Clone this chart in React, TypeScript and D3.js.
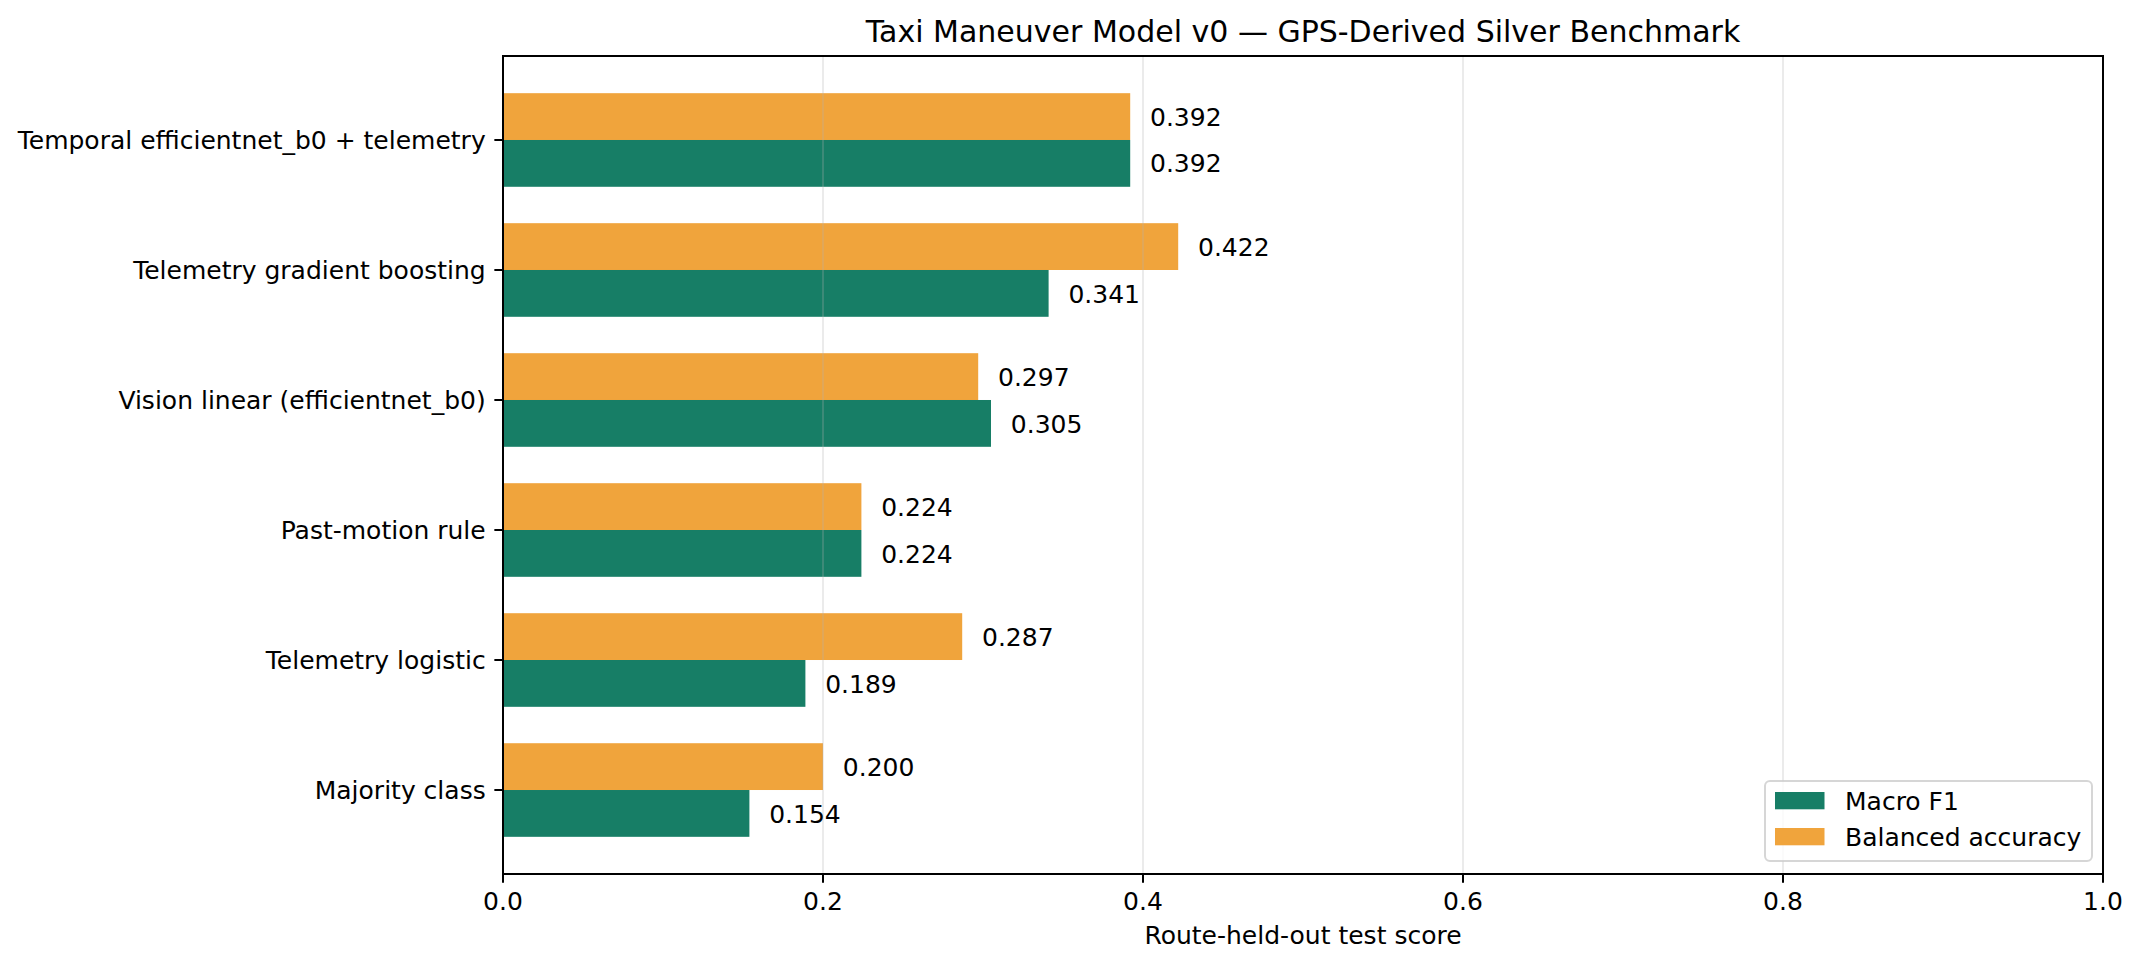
import * as d3 from "d3";

const categories = [
  "Temporal efficientnet_b0 + telemetry",
  "Telemetry gradient boosting",
  "Vision linear (efficientnet_b0)",
  "Past-motion rule",
  "Telemetry logistic",
  "Majority class",
];
const macroF1 = [0.392, 0.341, 0.305, 0.224, 0.189, 0.154];
const balancedAccuracy = [0.392, 0.422, 0.297, 0.224, 0.287, 0.2];
const xTicks = [0, 0.2, 0.4, 0.6, 0.8, 1.0];
const seriesNames = ["Macro F1", "Balanced accuracy"];

const width = 2142;
const height = 967;
const left = 503;
const right = 2103;
const top = 56;
const bottom = 874;

const green = "#177e66";
const orange = "#f0a43c";
const font = "'DejaVu Sans', sans-serif";
const fs = 25;
const barH = 0.36;

export default function App() {
  const x = d3.scaleLinear().domain([0, 1]).range([left, right]);

  // matplotlib-style 5% margin around the bar extent, inverted axis
  const lo = -barH;
  const hi = categories.length - 1 + barH;
  const pad = (hi - lo) * 0.05;
  const y = d3.scaleLinear().domain([lo - pad, hi + pad]).range([top, bottom]);

  const fmt = d3.format(".3f");
  const colors = [green, orange];

  return (
    <svg
      width={width}
      height={height}
      viewBox={`0 0 ${width} ${height}`}
      style={{ position: "absolute", left: 0, top: 0, background: "#fff" }}
      fontFamily={font}
    >
      <rect x={0} y={0} width={width} height={height} fill="#fff" />

      {/* bars */}
      {categories.map((c, i) => (
        <g key={c}>
          <rect
            x={x(0)}
            y={y(i - barH)}
            width={x(balancedAccuracy[i]) - x(0)}
            height={y(i) - y(i - barH)}
            fill={orange}
          />
          <rect
            x={x(0)}
            y={y(i)}
            width={x(macroF1[i]) - x(0)}
            height={y(i + barH) - y(i)}
            fill={green}
          />
        </g>
      ))}

      {/* grid on top of bars */}
      {xTicks.map((t) => (
        <line
          key={t}
          x1={x(t)}
          x2={x(t)}
          y1={top}
          y2={bottom}
          stroke="#b0b0b0"
          strokeOpacity={0.25}
          strokeWidth={2}
        />
      ))}

      {/* value labels */}
      {categories.map((c, i) => (
        <g key={c} fontSize={fs} fill="#000">
          <text x={x(balancedAccuracy[i]) + 19.8} y={y(i - barH / 2) + fs * 0.3645}>
            {fmt(balancedAccuracy[i])}
          </text>
          <text x={x(macroF1[i]) + 19.8} y={y(i + barH / 2) + fs * 0.3645}>
            {fmt(macroF1[i])}
          </text>
        </g>
      ))}

      {/* spines */}
      <rect
        x={left}
        y={top}
        width={right - left}
        height={bottom - top}
        fill="none"
        stroke="#000"
        strokeWidth={2}
      />

      {/* x axis */}
      {xTicks.map((t) => (
        <g key={t}>
          <line x1={x(t)} x2={x(t)} y1={bottom} y2={bottom + 8.65} stroke="#000" strokeWidth={2} />
          <text x={x(t)} y={910} fontSize={fs} textAnchor="middle">
            {t.toFixed(1)}
          </text>
        </g>
      ))}
      <text x={(left + right) / 2} y={944} fontSize={fs} textAnchor="middle">
        Route-held-out test score
      </text>

      {/* y axis */}
      {categories.map((c, i) => (
        <g key={c}>
          <line x1={left - 8.65} x2={left} y1={y(i)} y2={y(i)} stroke="#000" strokeWidth={2} />
          <text x={left - 17.3} y={y(i) + fs * 0.3645} fontSize={fs} textAnchor="end">
            {c}
          </text>
        </g>
      ))}

      {/* title */}
      <text x={(left + right) / 2} y={41.7} fontSize={30} textAnchor="middle">
        Taxi Maneuver Model v0 — GPS-Derived Silver Benchmark
      </text>

      {/* legend */}
      <g>
        <rect
          x={1765}
          y={781}
          width={327}
          height={80}
          rx={5}
          fill="#fff"
          fillOpacity={0.8}
          stroke="#cccccc"
          strokeOpacity={0.8}
          strokeWidth={2}
        />
        {seriesNames.map((n, k) => (
          <g key={n}>
            <rect x={1775} y={792 + k * 36} width={49.5} height={17.3} fill={colors[k]} />
            <text x={1845} y={810 + k * 36} fontSize={fs}>
              {n}
            </text>
          </g>
        ))}
      </g>
    </svg>
  );
}
